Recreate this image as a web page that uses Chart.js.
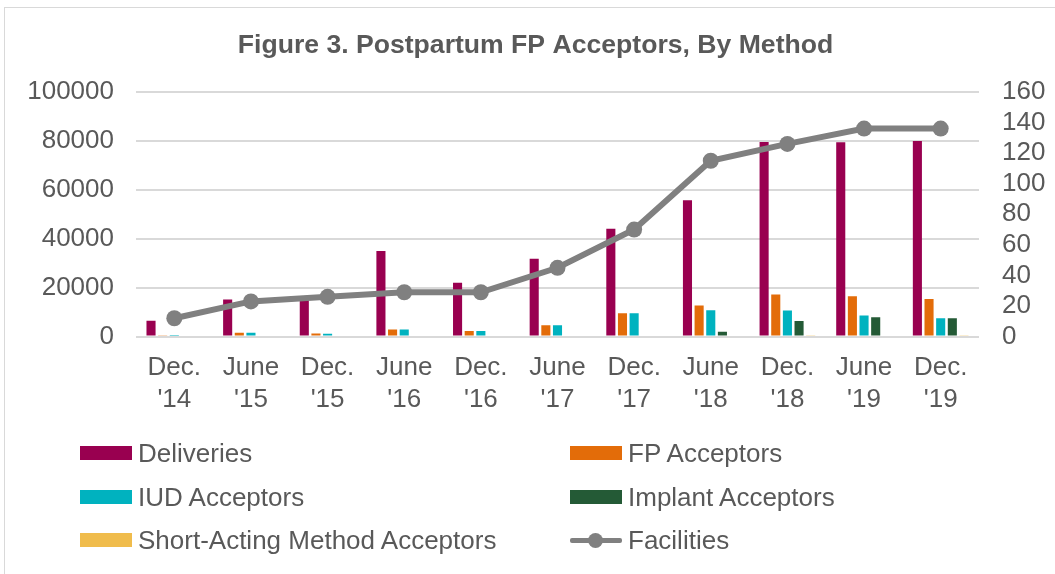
<!DOCTYPE html>
<html>
<head>
<meta charset="utf-8">
<script src="https://cdn.jsdelivr.net/npm/chart.js@4"></script>
<style>
    body { margin: 0; background: #fff; font-family: 'Liberation Sans', Arial, sans-serif; }
    #frame { position: absolute; left: 4px; top: 7px; width: 1060px; height: 580px; border: 1px solid #d9d9d9; box-sizing: border-box; }
    #wrap { position: absolute; left: 0; top: 0; width: 1055px; height: 423px; }
    .legend { position: absolute; left: 0; top: 0; width: 1055px; height: 574px; pointer-events: none; }
    .item { position: absolute; height: 30px; line-height: 30px; font-size: 26px; color: #595959; white-space: nowrap; }
    .swatch { position: absolute; left: 0; top: 8px; width: 52px; height: 14px; }
    .item span { position: absolute; left: 58px; top: 0; }
</style>
</head>
<body>
<div id="frame"></div>
<div id="wrap"><canvas id="chart"></canvas></div>
<div class="legend" id="legend"></div>
<script>
const labels = [['Dec.', "'14"], ['June', "'15"], ['Dec.', "'15"], ['June', "'16"], ['Dec.', "'16"], ['June', "'17"], ['Dec.', "'17"], ['June', "'18"], ['Dec.', "'18"], ['June', "'19"], ['Dec.', "'19"]];

const deliveries = [6500, 15200, 16000, 35000, 22000, 31800, 44100, 55700, 79500, 79400, 79900];
const fpAcceptors = [300, 1600, 1300, 2900, 2300, 4600, 9500, 12700, 17200, 16500, 15400];
const iudAcceptors = [200, 1600, 1200, 2900, 2300, 4600, 9500, 10800, 10700, 8600, 7500];
const implantAcceptors = [0, 0, 0, 0, 0, 0, 0, 2000, 6400, 7900, 7500];
const shortActing = [0, 0, 0, 0, 0, 0, 0, 0, 300, 0, 300];
const facilities = [12, 23, 26, 29, 29, 45, 70, 115, 126, 136, 136];

const textColor = '#595959';
const font = { family: "'Liberation Sans', Arial, sans-serif", size: 26 };

function bar(label, data, color) {
    return {
        label: label,
        data: data,
        backgroundColor: color,
        borderWidth: 0,
        order: 1,
        yAxisID: 'y',
        categoryPercentage: 0.76,
        barPercentage: 0.78,
    };
}

const datasets = [
    bar('Deliveries', deliveries, '#990050'),
    bar('FP Acceptors', fpAcceptors, '#E36C09'),
    bar('IUD Acceptors', iudAcceptors, '#00B2BF'),
    bar('Implant Acceptors', implantAcceptors, '#245A36'),
    bar('Short-Acting Method Acceptors', shortActing, '#F0BC4C'),
    {
        type: 'line',
        label: 'Facilities',
        data: facilities,
        borderColor: '#808080',
        backgroundColor: '#808080',
        borderWidth: 6,
        pointRadius: 8,
        pointBorderWidth: 0,
        order: 0,
        yAxisID: 'y1',
    },
];

new Chart(document.getElementById('chart'), {
    type: 'bar',
    data: { labels: labels, datasets: datasets },
    options: {
        responsive: true,
        maintainAspectRatio: false,
        animation: false,
        layout: { padding: { left: 16, right: 0, top: 0, bottom: 0 } },
        plugins: {
            legend: { display: false },
            tooltip: { enabled: false },
            title: {
                display: true,
                text: 'Figure 3. Postpartum FP Acceptors, By Method',
                color: textColor,
                font: { family: font.family, size: 26.6, weight: 'bold' },
                padding: { top: 30, bottom: 30 },
            },
        },
        scales: {
            x: {
                grid: { display: false },
                border: { display: false },
                ticks: { color: textColor, font: font, padding: 8, maxRotation: 0, autoSkip: false },
            },
            y: {
                position: 'left',
                min: 0,
                max: 100000,
                grid: { color: '#d9d9d9', lineWidth: 2, drawTicks: false },
                border: { display: false },
                ticks: { stepSize: 20000, color: textColor, font: font, padding: 22, autoSkip: false, callback: function (v) { return String(v); } },
                afterFit: function (scale) { scale.width = 120; },
            },
            y1: {
                position: 'right',
                min: 0,
                max: 160,
                grid: { display: false },
                border: { display: false },
                ticks: { stepSize: 20, color: textColor, font: font, padding: 15, autoSkip: false, callback: function (v) { return String(v); } },
                afterFit: function (scale) { scale.width = 76; },
            },
        },
    },
});

// two-column legend like the original
const legendItems = [
    { label: 'Deliveries', color: '#990050', x: 80, y: 438 },
    { label: 'FP Acceptors', color: '#E36C09', x: 570, y: 438 },
    { label: 'IUD Acceptors', color: '#00B2BF', x: 80, y: 482 },
    { label: 'Implant Acceptors', color: '#245A36', x: 570, y: 482 },
    { label: 'Short-Acting Method Acceptors', color: '#F0BC4C', x: 80, y: 525 },
    { label: 'Facilities', color: '#808080', x: 570, y: 525, line: true },
];
const legend = document.getElementById('legend');
legendItems.forEach(function (it) {
    const el = document.createElement('div');
    el.className = 'item';
    el.style.left = it.x + 'px';
    el.style.top = it.y + 'px';
    if (it.line) {
        el.innerHTML = '<div style="position:absolute;left:0;top:13px;width:52px;height:5px;background:' + it.color + ';border-radius:2px"></div>' +
            '<div style="position:absolute;left:18px;top:8px;width:15px;height:15px;border-radius:50%;background:' + it.color + '"></div>' +
            '<span>' + it.label + '</span>';
    } else {
        el.innerHTML = '<div class="swatch" style="background:' + it.color + '"></div><span>' + it.label + '</span>';
    }
    legend.appendChild(el);
});
</script>
</body>
</html>
